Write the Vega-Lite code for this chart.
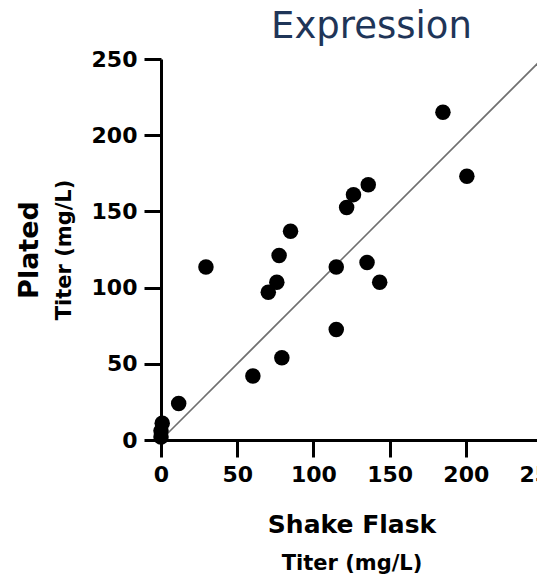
{
  "$schema": "https://vega.github.io/schema/vega-lite/v6.json",
  "autosize": "none",
  "padding": {"left": 161, "top": 59, "right": -5, "bottom": 134},
  "width": 381,
  "height": 381,
  "background": "white",
  "title": {
    "text": "Expression",
    "font": "DejaVu Sans",
    "fontSize": 37,
    "fontWeight": "normal",
    "color": "#1f3558",
    "anchor": "middle",
    "baseline": "alphabetic",
    "dx": 20,
    "dy": 35,
    "offset": 8
  },
  "config": {
    "view": {"stroke": null},
    "axis": {
      "grid": false,
      "domainColor": "black",
      "domainWidth": 3,
      "tickColor": "black",
      "tickWidth": 3,
      "tickSize": 17,
      "labelFont": "DejaVu Sans",
      "labelFontWeight": "bold",
      "labelFontSize": 22,
      "labelColor": "black",
      "labelPadding": 7,
      "labelFlush": false,
      "labelOverlap": false,
      "titleFont": "DejaVu Sans",
      "titleFontWeight": "bold",
      "titleColor": "black"
    }
  },
  "resolve": {"scale": {"x": "independent", "y": "independent"}},
  "layer": [
    {
      "data": {"values": [{"sf": 0, "plated": 0}, {"sf": 250, "plated": 250}]},
      "mark": {"type": "line", "color": "#707070", "strokeWidth": 1.6},
      "encoding": {
        "x": {
          "field": "sf", "type": "quantitative",
          "scale": {"domain": [0, 250], "nice": false},
          "axis": {"orient": "bottom", "values": [0, 50, 100, 150, 200, 250], "title": "Shake Flask", "titleFontSize": 25, "titlePadding": 27}
        },
        "y": {
          "field": "plated", "type": "quantitative",
          "scale": {"domain": [0, 250], "nice": false},
          "axis": {"orient": "left", "values": [0, 50, 100, 150, 200, 250], "title": "Plated", "titleFontSize": 27, "titlePadding": 48}
        }
      }
    },
    {
      "data": {"values": [
        {"sf": 185, "plated": 215},
        {"sf": 200.7, "plated": 173},
        {"sf": 136, "plated": 167.5},
        {"sf": 126.3, "plated": 161},
        {"sf": 121.8, "plated": 152.5},
        {"sf": 85, "plated": 137},
        {"sf": 77.5, "plated": 121},
        {"sf": 29.5, "plated": 113.5},
        {"sf": 115, "plated": 113.5},
        {"sf": 135.2, "plated": 116.5},
        {"sf": 143.5, "plated": 103.5},
        {"sf": 76, "plated": 103.5},
        {"sf": 70.4, "plated": 97},
        {"sf": 115, "plated": 72.5},
        {"sf": 79.3, "plated": 54},
        {"sf": 60.3, "plated": 42},
        {"sf": 11.6, "plated": 24},
        {"sf": 0.8, "plated": 11},
        {"sf": 0, "plated": 6},
        {"sf": 0, "plated": 2}
      ]},
      "mark": {"type": "circle", "color": "black", "opacity": 1, "size": 240},
      "encoding": {
        "x": {
          "field": "sf", "type": "quantitative",
          "scale": {"domain": [0, 250], "nice": false},
          "axis": {"orient": "bottom", "labels": false, "ticks": false, "domain": false, "title": "Titer (mg/L)", "titleFontSize": 21, "titlePadding": 112}
        },
        "y": {
          "field": "plated", "type": "quantitative",
          "scale": {"domain": [0, 250], "nice": false},
          "axis": {"orient": "left", "labels": false, "ticks": false, "domain": false, "title": "Titer (mg/L)", "titleFontSize": 21, "titlePadding": 87}
        }
      }
    }
  ]
}
